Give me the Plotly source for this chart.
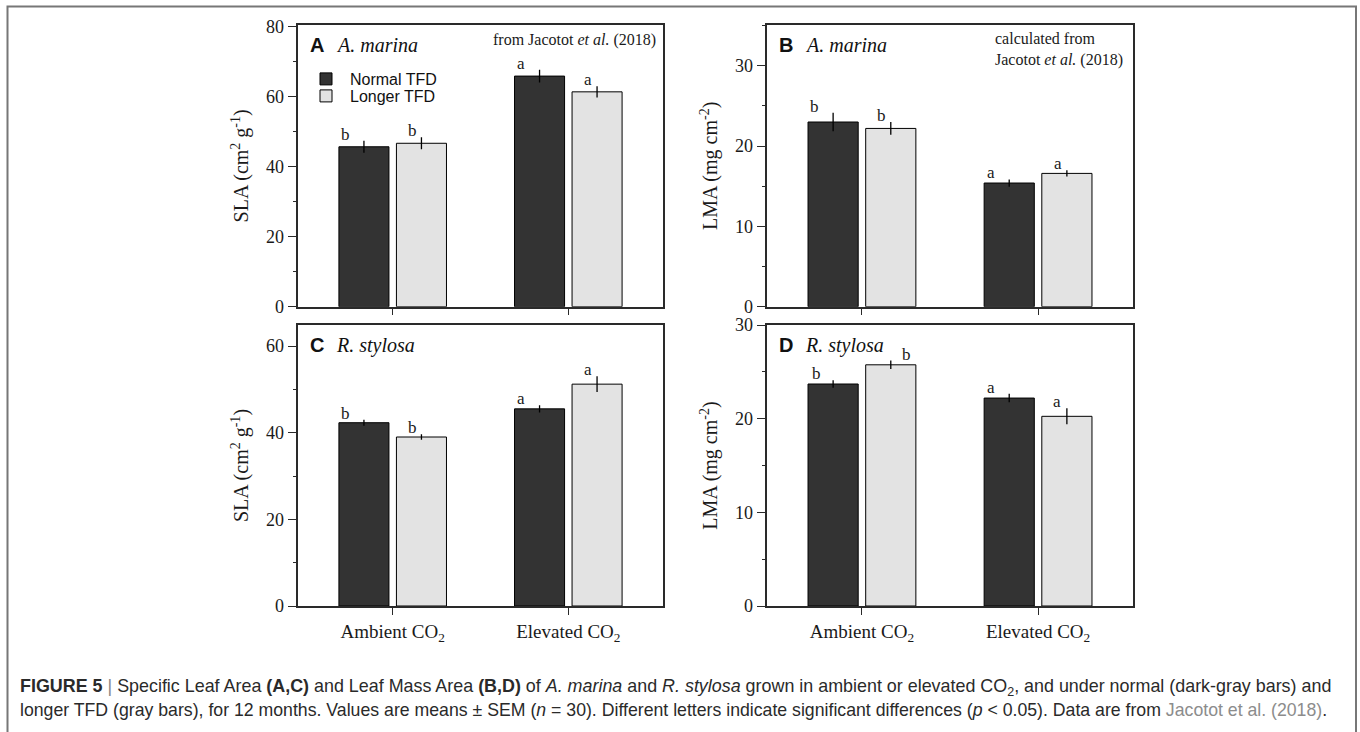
import plotly.graph_objects as go

categories = ["Ambient CO<sub>2</sub>", "Elevated CO<sub>2</sub>"]
series_names = ["Normal TFD", "Longer TFD"]

# Panel A: SLA A. marina
a_normal = [45.7, 65.9]
a_normal_err = [1.7, 1.8]
a_longer = [46.7, 61.4]
a_longer_err = [1.7, 1.6]
a_letters_normal = ["b", "a"]
a_letters_longer = ["b", "a"]

# Panel B: LMA A. marina
b_normal = [23.0, 15.4]
b_normal_err = [1.15, 0.45]
b_longer = [22.2, 16.6]
b_longer_err = [0.8, 0.4]
b_letters_normal = ["b", "a"]
b_letters_longer = ["b", "a"]

# Panel C: SLA R. stylosa
c_normal = [42.3, 45.5]
c_normal_err = [0.7, 0.85]
c_longer = [39.0, 51.2]
c_longer_err = [0.65, 1.8]
c_letters_normal = ["b", "a"]
c_letters_longer = ["b", "a"]

# Panel D: LMA R. stylosa
d_normal = [23.7, 22.2]
d_normal_err = [0.4, 0.45]
d_longer = [25.75, 20.25]
d_longer_err = [0.45, 0.85]
d_letters_normal = ["b", "a"]
d_letters_longer = ["b", "a"]

W, H = 1360, 732
DARK = "#333333"
LIGHT = "#e3e3e3"
SERIF = "Liberation Serif, Times New Roman, serif"
SANS = "Liberation Sans, Arial, sans-serif"
AX = "#2a2a2a"

def px_x(p):
    return p / W

def px_y(p):
    return 1 - p / H

panels = [
    dict(key="", normal=a_normal, nerr=a_normal_err, longer=a_longer, lerr=a_longer_err,
         ln=a_letters_normal, ll=a_letters_longer, ln_dx=[-47, -47], ll_dx=[20, 20],
         xdom=[px_x(298.3), px_x(662.7)], ydom=[px_y(306.7), px_y(25)],
         yr=[0, 80.5], dt=20, mdt=10, title="SLA (cm<sup>2</sup> g<sup>-1</sup>)", labels=False,
         letter="A", species="A. marina"),
    dict(key="2", normal=b_normal, nerr=b_normal_err, longer=b_longer, lerr=b_longer_err,
         ln=b_letters_normal, ll=b_letters_longer, ln_dx=[-47, -47], ll_dx=[20, 20],
         xdom=[px_x(767.3), px_x(1132.7)], ydom=[px_y(306.7), px_y(25)],
         yr=[0, 35.08], dt=10, mdt=5, title="LMA (mg cm<sup>-2</sup>)", labels=False,
         letter="B", species="A. marina"),
    dict(key="3", normal=c_normal, nerr=c_normal_err, longer=c_longer, lerr=c_longer_err,
         ln=c_letters_normal, ll=c_letters_longer, ln_dx=[-47, -47], ll_dx=[20, 20],
         xdom=[px_x(298.3), px_x(662.7)], ydom=[px_y(606), px_y(325)],
         yr=[0, 64.85], dt=20, mdt=10, title="SLA (cm<sup>2</sup> g<sup>-1</sup>)", labels=True,
         letter="C", species="R. stylosa"),
    dict(key="4", normal=d_normal, nerr=d_normal_err, longer=d_longer, lerr=d_longer_err,
         ln=d_letters_normal, ll=d_letters_longer, ln_dx=[-45, -47], ll_dx=[45, 19],
         xdom=[px_x(767.3), px_x(1132.7)], ydom=[px_y(606), px_y(325)],
         yr=[0, 30], dt=10, mdt=5, title="LMA (mg cm<sup>-2</sup>)", labels=True,
         letter="D", species="R. stylosa"),
]

fig = go.Figure()
annotations = []
layout = {}

for i, p in enumerate(panels):
    k = p["key"]
    xa, ya = "x" + k, "y" + k
    first = (i == 0)
    fig.add_trace(go.Bar(
        x=categories, y=p["normal"], name=series_names[0], xaxis=xa, yaxis=ya,
        marker=dict(color=DARK, line=dict(color="#000000", width=1)),
        error_y=dict(type="data", array=p["nerr"], color="#000000", thickness=1.3, width=0),
        showlegend=first, legend="legend", offsetgroup="n",
    ))
    fig.add_trace(go.Bar(
        x=categories, y=p["longer"], name=series_names[1], xaxis=xa, yaxis=ya,
        marker=dict(color=LIGHT, line=dict(color="#000000", width=1)),
        error_y=dict(type="data", array=p["lerr"], color="#000000", thickness=1.3, width=0),
        showlegend=first, legend="legend2", offsetgroup="l",
    ))
    layout["xaxis" + k] = dict(
        domain=p["xdom"], anchor=ya, type="category", range=[-0.5375, 1.5375],
        showline=True, linecolor=AX, linewidth=1.5, mirror=True, automargin=False,
        ticks="outside", ticklen=7, tickwidth=1.3, tickcolor=AX,
        showticklabels=p["labels"], tickfont=dict(family=SERIF, size=19, color="#1a1a1a"),
        showgrid=False, zeroline=False, fixedrange=True,
    )
    layout["yaxis" + k] = dict(
        domain=p["ydom"], anchor=xa, range=p["yr"], dtick=p["dt"], tick0=0,
        showline=True, linecolor=AX, linewidth=1.5, mirror=True, automargin=False,
        ticks="outside", ticklen=9, tickwidth=1.3, tickcolor=AX,
        minor=dict(ticks="outside", ticklen=4, dtick=p["mdt"], tick0=0, tickcolor=AX, tickwidth=1.1),
        tickfont=dict(family=SERIF, size=18, color="#1a1a1a"),
        title=dict(text=p["title"], font=dict(family=SERIF, size=20, color="#1a1a1a"), standoff=12),
        showgrid=False, zeroline=False, fixedrange=True,
    )
    # significance letters
    for j, cat in enumerate(categories):
        annotations.append(dict(
            x=cat, y=p["normal"][j] + p["nerr"][j], xref=xa, yref=ya,
            text=p["ln"][j], showarrow=False, xanchor="center", yanchor="bottom",
            xshift=p["ln_dx"][j], yshift=-5, font=dict(family=SERIF, size=17, color="#1a1a1a")))
        annotations.append(dict(
            x=cat, y=p["longer"][j] + p["lerr"][j], xref=xa, yref=ya,
            text=p["ll"][j], showarrow=False, xanchor="center", yanchor="bottom",
            xshift=p["ll_dx"][j], yshift=-5, font=dict(family=SERIF, size=17, color="#1a1a1a")))
    # panel letter and species
    annotations.append(dict(
        x=(p["xdom"][0] + px_x(9.5)), y=p["ydom"][1] - 20 / H, xref="paper", yref="paper",
        text="<b>" + p["letter"] + "</b>", showarrow=False, xanchor="left", yanchor="middle",
        font=dict(family=SANS, size=20, color="#111111")))
    annotations.append(dict(
        x=(p["xdom"][0] + px_x(35.5)), y=p["ydom"][1] - 20 / H, xref="paper", yref="paper",
        text="<i>" + p["species"] + "</i>", showarrow=False, xanchor="left", yanchor="middle",
        font=dict(family=SERIF, size=20, color="#111111")))

# source notes
annotations.append(dict(
    x=px_x(658), y=px_y(40.5), xref="paper", yref="paper",
    text="from Jacotot <i>et al.</i> (2018)", showarrow=False, xanchor="right", yanchor="middle",
    font=dict(family=SERIF, size=16, color="#1a1a1a")))
annotations.append(dict(
    x=px_x(993), y=px_y(49.5), xref="paper", yref="paper",
    text="calculated from<br>Jacotot <i>et al.</i> (2018)", showarrow=False, xanchor="left",
    yanchor="middle", align="left",
    font=dict(family=SERIF, size=16, color="#1a1a1a")))

# caption
cap1 = ("<b>FIGURE 5</b> <span style='color:#888'>|</span> Specific Leaf Area <b>(A,C)</b> and Leaf Mass Area "
        "<b>(B,D)</b> of <i>A. marina</i> and <i>R. stylosa</i> grown in ambient or elevated CO<sub>2</sub>, "
        "and under normal (dark-gray bars) and")
cap2 = ("longer TFD (gray bars), for 12 months. Values are means ± SEM (<i>n</i> = 30). Different letters "
        "indicate significant differences (<i>p</i> &lt; 0.05). Data are from "
        "<span style='color:#8c8c8c'>Jacotot et al. (2018)</span>.")
annotations.append(dict(x=px_x(18), y=px_y(687), xref="paper", yref="paper", text=cap1,
                        showarrow=False, xanchor="left", yanchor="middle",
                        font=dict(family=SANS, size=17.9, color="#2a2a2a")))
annotations.append(dict(x=px_x(18), y=px_y(710), xref="paper", yref="paper", text=cap2,
                        showarrow=False, xanchor="left", yanchor="middle",
                        font=dict(family=SANS, size=17.7, color="#2a2a2a")))

fig.update_layout(
    width=W, height=H, margin=dict(l=0, r=0, t=0, b=0, pad=0),
    paper_bgcolor="white", plot_bgcolor="white",
    barmode="group", bargap=0.345, bargroupgap=0.13,
    annotations=annotations,
    legend=dict(x=px_x(302), y=px_y(79), xanchor="left", yanchor="middle", itemwidth=38,
                font=dict(family=SANS, size=16, color="#111111"), bgcolor="rgba(0,0,0,0)",
                borderwidth=0, itemclick=False, itemdoubleclick=False),
    legend2=dict(x=px_x(302), y=px_y(96), xanchor="left", yanchor="middle", itemwidth=38,
                 font=dict(family=SANS, size=16, color="#111111"), bgcolor="rgba(0,0,0,0)",
                 borderwidth=0, itemclick=False, itemdoubleclick=False),
    shapes=[dict(type="rect", xref="paper", yref="paper", x0=px_x(7.5), x1=px_x(1356),
                 y0=-0.05, y1=px_y(6.5), line=dict(color="#777777", width=2), layer="below")],
    **layout,
)

fig.write_html("out.html", config={"displayModeBar": False},
               post_script="document.body.style.margin='0px';")
